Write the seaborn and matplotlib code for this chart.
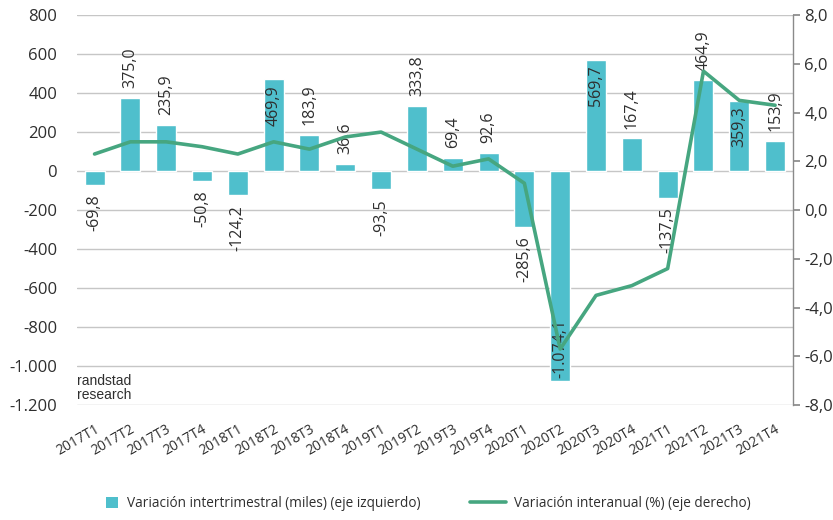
import numpy as np
import pandas as pd
import matplotlib
matplotlib.use("Agg")
import matplotlib.pyplot as plt
import seaborn as sns
from matplotlib.ticker import FuncFormatter
from matplotlib.patches import Patch
from matplotlib.lines import Line2D

quarters = ["2017T1", "2017T2", "2017T3", "2017T4", "2018T1", "2018T2", "2018T3", "2018T4",
            "2019T1", "2019T2", "2019T3", "2019T4", "2020T1", "2020T2", "2020T3", "2020T4",
            "2021T1", "2021T2", "2021T3", "2021T4"]
quarterly_change = [-69.8, 375.0, 235.9, -50.8, -124.2, 469.9, 183.9, 36.6,
                    -93.5, 333.8, 69.4, 92.6, -285.6, -1074.1, 569.7, 167.4,
                    -137.5, 464.9, 359.3, 153.9]
annual_change = [2.3, 2.8, 2.8, 2.6, 2.3, 2.8, 2.5, 3.0,
                 3.2, 2.5, 1.8, 2.1, 1.1, -5.7, -3.5, -3.1,
                 -2.4, 5.7, 4.5, 4.3]
inside_labels = {"2018T2", "2020T2", "2020T3", "2021T3"}

bar_label = "Variación intertrimestral (miles) (eje izquierdo)"
line_label = "Variación interanual (%) (eje derecho)"

sns.set_theme(style="white")
plt.rcParams["font.family"] = ["Open Sans", "DejaVu Sans"]

BAR = "#4fbfcc"
LINE = "#46a680"
TXT = "#2e2e2e"
GRID = "#c6c6c6"

df = pd.DataFrame({"q": quarters, "v": quarterly_change, "a": annual_change})

fig = plt.figure(figsize=(8.33, 5.2), dpi=100)
ax = fig.add_axes([0.092, 0.221, 0.860, 0.750])

sns.barplot(data=df, x="q", y="v", color=BAR, width=0.56, saturation=1, ax=ax, zorder=2)
ax.set_xlim(-0.5, len(quarters) - 0.5)
ax.set_ylim(-1200, 800)
ax.set_yticks(np.arange(-1200, 801, 200))
ax.yaxis.set_major_formatter(FuncFormatter(lambda v, p: f"{int(v):,}".replace(",", ".")))
ax.grid(axis="y", color=GRID, linewidth=1.0, zorder=0)
ax.set_axisbelow(True)
for s in ax.spines.values():
    s.set_visible(False)
ax.set_xlabel("")
ax.set_ylabel("")
ax.tick_params(axis="y", labelsize=12, colors=TXT, length=0, pad=14)
ax.tick_params(axis="x", labelsize=10, colors=TXT, length=0, pad=12)
plt.setp(ax.get_xticklabels(), rotation=30, ha="right", rotation_mode="anchor")

# data labels
for i, (q, v) in enumerate(zip(quarters, quarterly_change)):
    txt = f"{v:,.1f}".replace(",", "X").replace(".", ",").replace("X", ".")
    if q in inside_labels:
        dy, va = (-4, "top") if v >= 0 else (2, "bottom")
    else:
        dy, va = (7, "bottom") if v >= 0 else (-7, "top")
    ax.annotate(txt, (i, v), xytext=(0, dy), textcoords="offset points", rotation=90,
                ha="center", va=va, fontsize=11.5, color=TXT, zorder=5)

ax2 = ax.twinx()
sns.lineplot(x=np.arange(len(quarters)), y=annual_change, ax=ax2, color=LINE, linewidth=2.6, zorder=4)
ax2.set_ylim(-8, 8)
ax2.set_yticks(np.arange(-8, 8.1, 2))
ax2.yaxis.set_major_formatter(FuncFormatter(lambda v, p: f"{v:.1f}".replace(".", ",")))
for s in ["top", "left", "bottom"]:
    ax2.spines[s].set_visible(False)
ax2.spines["right"].set_color("#8a8a8a")
ax2.spines["right"].set_linewidth(1.0)
ax2.tick_params(axis="y", labelsize=12, colors=TXT, length=5, color="#8a8a8a", pad=3)
ax2.grid(False)
ax2.set_xlim(-0.5, len(quarters) - 0.5)

ax.text(-0.5, -1040, "randstad\nresearch", fontsize=10, color=TXT, va="top", ha="left",
        linespacing=1.0, zorder=6,
        family=["Liberation Sans Narrow", "Liberation Sans", "DejaVu Sans"])

fig.legend([Patch(facecolor=BAR, edgecolor="none")], [bar_label], loc="center",
           bbox_to_anchor=(0.316, 0.032), frameon=False, fontsize=9.8,
           handlelength=0.9, handleheight=0.9, handletextpad=0.6, labelcolor=TXT)
fig.legend([Line2D([0], [0], color=LINE, linewidth=2.6)], [line_label], loc="center",
           bbox_to_anchor=(0.733, 0.032), frameon=False, fontsize=9.8,
           handlelength=2.6, handletextpad=0.6, labelcolor=TXT)

fig.savefig("out.png", dpi=100)
